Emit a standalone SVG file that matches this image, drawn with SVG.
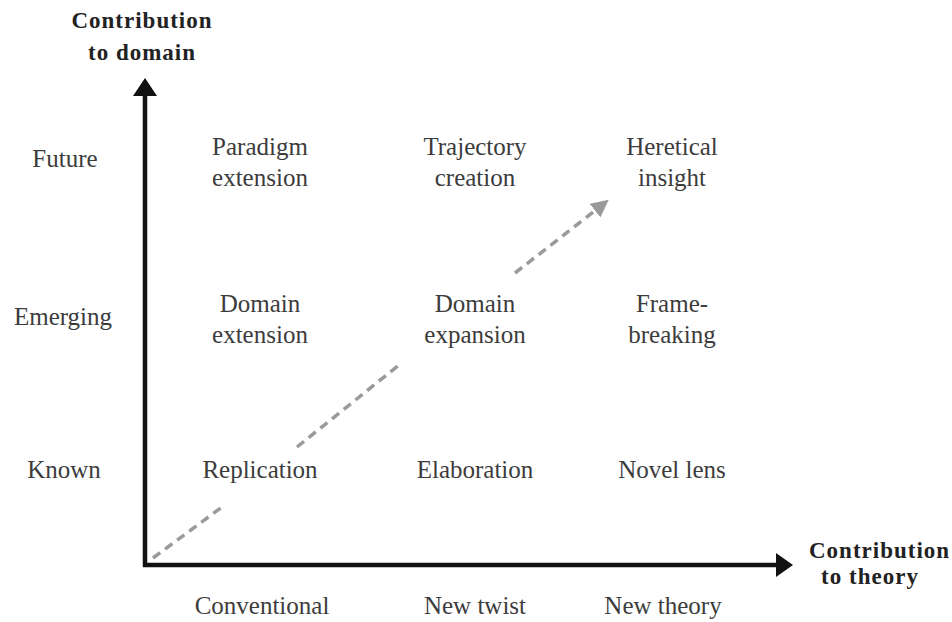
<svg xmlns="http://www.w3.org/2000/svg" width="952" height="622" viewBox="0 0 952 622">
<style>
.lbl{font-family:"Liberation Serif","Times New Roman",serif;font-size:25px;fill:#3c3c3c;text-anchor:middle}
.ttl{font-family:"Liberation Serif","Times New Roman",serif;font-size:23px;font-weight:bold;fill:#222;letter-spacing:1px}
.axis{stroke:#111;stroke-width:4.5;fill:none}
.dash{stroke:#9a9a9a;stroke-width:3.5;fill:none;stroke-dasharray:9 6}
</style>
<defs>
<marker id="ah" viewBox="0 0 10 10" refX="8" refY="5" markerWidth="5" markerHeight="5" orient="auto" markerUnits="strokeWidth">
<path d="M0,0 L10,5 L0,10 z" fill="#9a9a9a"/>
</marker>
</defs>
<rect width="952" height="622" fill="#fff"/>
<g id="axes">
<line class="axis" x1="145" y1="567" x2="145" y2="94"/>
<polygon points="145,78 133,96 157,96" fill="#111"/>
<line class="axis" x1="143" y1="565" x2="778" y2="565"/>
<polygon points="793,565 776,553 776,577" fill="#111"/>
</g>
<g id="connectors">
<path class="dash" d="M153,558 L222,507"/>
<path class="dash" d="M297,447 L399,365"/>
<path class="dash" d="M515,273 L606,202" marker-end="url(#ah)"/>
</g>
<g id="title-y"><text class="ttl" x="142" y="28" text-anchor="middle">Contribution</text><text class="ttl" x="142" y="60" text-anchor="middle">to domain</text></g>
<g id="title-x"><text class="ttl" x="809" y="558">Contribution</text><text class="ttl" x="870" y="584" text-anchor="middle">to theory</text></g>
<g id="row-future"><text class="lbl" x="65" y="167">Future</text></g>
<g id="row-emerging"><text class="lbl" x="63" y="325">Emerging</text></g>
<g id="row-known"><text class="lbl" x="64" y="478">Known</text></g>
<g id="paradigm-extension"><text class="lbl" x="260" y="155">Paradigm</text><text class="lbl" x="260" y="186">extension</text></g>
<g id="trajectory-creation"><text class="lbl" x="475" y="155">Trajectory</text><text class="lbl" x="475" y="186">creation</text></g>
<g id="heretical-insight"><text class="lbl" x="672" y="155">Heretical</text><text class="lbl" x="672" y="186">insight</text></g>
<g id="domain-extension"><text class="lbl" x="260" y="312">Domain</text><text class="lbl" x="260" y="343">extension</text></g>
<g id="domain-expansion"><text class="lbl" x="475" y="312">Domain</text><text class="lbl" x="475" y="343">expansion</text></g>
<g id="frame-breaking"><text class="lbl" x="672" y="312">Frame-</text><text class="lbl" x="672" y="343">breaking</text></g>
<g id="replication"><text class="lbl" x="260" y="478">Replication</text></g>
<g id="elaboration"><text class="lbl" x="475" y="478">Elaboration</text></g>
<g id="novel-lens"><text class="lbl" x="672" y="478">Novel lens</text></g>
<g id="col-conventional"><text class="lbl" x="262" y="614">Conventional</text></g>
<g id="col-new-twist"><text class="lbl" x="475" y="614">New twist</text></g>
<g id="col-new-theory"><text class="lbl" x="663" y="614">New theory</text></g>
</svg>
